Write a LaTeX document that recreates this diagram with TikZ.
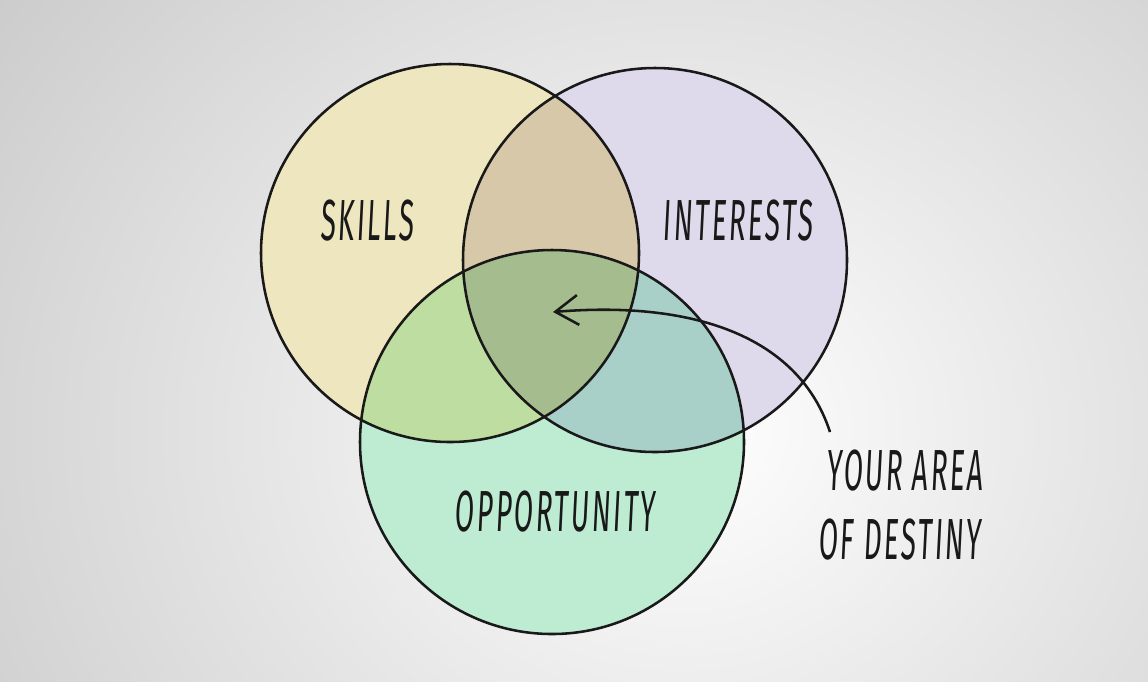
\documentclass[tikz,border=0pt]{standalone}
\usepackage{fontspec}
\usepackage{tikz}
\usetikzlibrary{arrows.meta}
\newfontfamily\handfont{Fira Sans}[FakeStretch=0.48, FakeSlant=0.05, LetterSpace=4]
\definecolor{skillsfill}{RGB}{238,230,190}
\definecolor{interestsfill}{RGB}{222,218,235}
\definecolor{opportfill}{RGB}{190,236,210}
\definecolor{skintfill}{RGB}{216,200,170}
\definecolor{skoppfill}{RGB}{190,221,160}
\definecolor{intoppfill}{RGB}{168,207,200}
\definecolor{allfill}{RGB}{165,188,142}
\definecolor{inkline}{RGB}{25,25,25}

\begin{document}
\begin{tikzpicture}[x=0.02cm, y=-0.02cm,
  ring/.style={line width=1.45pt, draw=inkline},
  tag/.style={font=\handfont\fontsize{33}{40}\selectfont, text=inkline, inner sep=0pt}]
  \useasboundingbox (0,0) rectangle (1148,681);

  % Background shading
  \begin{scope}
    \clip (0,0) rectangle (1148,681);
    \shade[inner color=white, outer color=black!21] (-200,-350) rectangle (1560,1210);
  \end{scope}

  % Circle outlines
  \def\skillsring{(450,253) circle (189)}
  \def\interestsring{(655,260) circle (192)}
  \def\opportring{(552,442) circle (192)}

  % Region fills
  \fill[skillsfill] \skillsring;
  \fill[interestsfill] \interestsring;
  \fill[opportfill] \opportring;
  \begin{scope}
    \clip \skillsring;
    \fill[skintfill] \interestsring;
    \fill[skoppfill] \opportring;
  \end{scope}
  \begin{scope}
    \clip \interestsring;
    \fill[intoppfill] \opportring;
    \clip \skillsring;
    \fill[allfill] \opportring;
  \end{scope}

  % Rings
  \draw[ring] \skillsring;
  \draw[ring] \interestsring;
  \draw[ring] \opportring;

  % Labels
  \node[tag] (skills) at (367,221) {SKILLS};
  \node[tag] (interests) at (738,221) {INTERESTS};
  \node[tag] (opport) at (555,512) {OPPORTUNITY};
  \node[tag, anchor=west] (area) at (826,471) {YOUR AREA};
  \node[tag, anchor=west] (destiny) at (818,540) {OF DESTINY};

  % Pointer to the centre
  \coordinate (tail) at (830,432);
  \coordinate (spot) at (553,312);
  \draw[ring, -{Straight Barb[length=13pt, width=17pt]}]
    (tail) .. controls (800,340) and (700,300) .. (spot);
\end{tikzpicture}
\end{document}
